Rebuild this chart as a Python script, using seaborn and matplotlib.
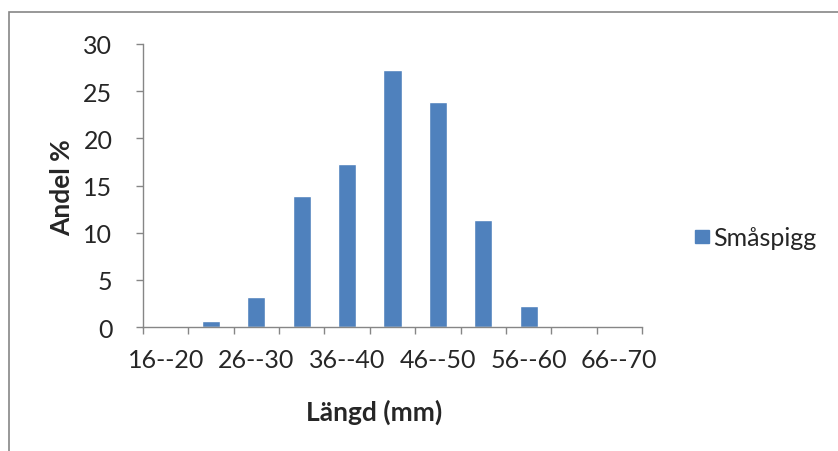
import numpy as np
import pandas as pd
import matplotlib
matplotlib.use("Agg")
import matplotlib.pyplot as plt
import seaborn as sns
from matplotlib.patches import Rectangle

# Length classes (mm) and share of catch (%)
classes = ["16--20", "21--25", "26--30", "31--35", "36--40", "41--45",
           "46--50", "51--55", "56--60", "61--65", "66--70"]
andel = [0.0, 0.6, 3.2, 13.9, 17.3, 27.2, 23.8, 11.3, 2.2, 0.1, 0.0]
series_name = "Småspigg"
shown_labels = ["16--20", "26--30", "36--40", "46--50", "56--60", "66--70"]
y_ticks = [0, 5, 10, 15, 20, 25, 30]

df = pd.DataFrame({"Längd": classes, "Andel": andel, "Art": series_name})

sns.set_theme(style="white")
plt.rcParams["font.family"] = ["Lato", "DejaVu Sans"]

W, H = 838, 452
fig = plt.figure(figsize=(W / 100, H / 100), dpi=100)
ax = fig.add_axes([143 / W, 1 - 328 / H, (642 - 143) / W, (328 - 45) / H])

bar_color = "#4F81BD"
axis_gray = "#868686"
tick_fs = 18

sns.barplot(data=df, x="Längd", y="Andel", hue="Art", palette=[bar_color],
            width=0.4, ax=ax, legend=False, saturation=1)

ax.set_xlim(-0.5, len(classes) - 0.5)
ax.set_ylim(0, 30)

# y axis
ax.set_yticks(y_ticks)
ax.set_yticklabels([str(v) for v in y_ticks], fontsize=tick_fs)
ax.tick_params(axis="y", which="major", direction="out", length=5, width=1,
               color=axis_gray, pad=17, left=True)

# x axis: tick marks on class boundaries, labels on every second class
ax.set_xticks(np.arange(-0.5, len(classes), 1))
ax.set_xticklabels([""] * (len(classes) + 1))
ax.tick_params(axis="x", which="major", direction="out", length=5, width=1,
               color=axis_gray, bottom=True)
idx = [classes.index(c) for c in shown_labels]
ax.set_xticks(idx, minor=True)
ax.set_xticklabels(shown_labels, minor=True, fontsize=tick_fs)
ax.tick_params(axis="x", which="minor", length=0, pad=15)

for s in ["top", "right"]:
    ax.spines[s].set_visible(False)
for s in ["left", "bottom"]:
    ax.spines[s].set_color(axis_gray)
    ax.spines[s].set_linewidth(1)

ax.set_xlabel("")
ax.set_ylabel("")

fig.text(374 / W, 1 - 412 / H, "Längd (mm)", ha="center", va="center",
         fontsize=19, fontweight="bold")
fig.text(62 / W, 1 - 188 / H, "Andel %", ha="center", va="center",
         rotation=90, fontsize=19, fontweight="bold")

# legend
fig.patches.append(Rectangle((695 / W, 1 - 244 / H), 14 / W, 13 / H,
                             transform=fig.transFigure, color=bar_color))
fig.text(713 / W, 1 - 238 / H, series_name, ha="left", va="center", fontsize=18)

# chart frame
fig.patches.append(Rectangle((9 / W, -0.1), 1.2, 1 - 13 / H + 0.1,
                             transform=fig.transFigure, fill=False,
                             edgecolor=axis_gray, linewidth=1.2))

fig.savefig("out.png", dpi=100, facecolor="white")
